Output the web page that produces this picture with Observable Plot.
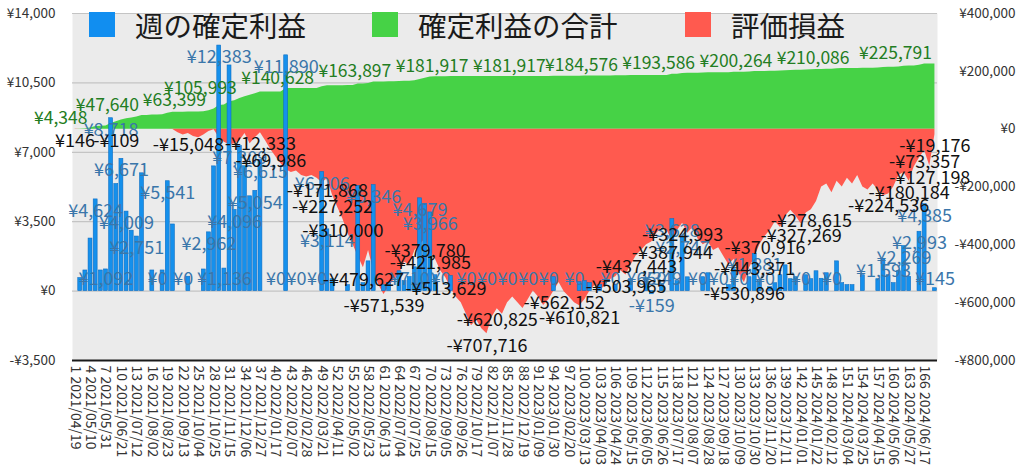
<!DOCTYPE html>
<html><head><meta charset="utf-8">
<script src="https://cdn.jsdelivr.net/npm/d3@7"></script>
<script src="https://cdn.jsdelivr.net/npm/@observablehq/plot@0.6"></script>
<style>
body{margin:0;background:#fff;}
#wrap{position:relative;width:1024px;height:472px;overflow:hidden;}
.legend{position:absolute;top:0;left:0;width:1024px;height:50px;font-family:"Noto Sans CJK JP";pointer-events:none;}
.sw{position:absolute;width:26px;height:25px;top:12px;}
.lt{position:absolute;top:4px;font-size:28.5px;line-height:42px;color:#1a1a1a;white-space:nowrap;}
</style></head><body>
<div id="wrap"><div id="chart"></div>
<div class="legend">
<div class="sw" style="left:89px;background:#118ef0"></div><div class="lt" style="left:135px">週の確定利益</div>
<div class="sw" style="left:372px;background:#46d246"></div><div class="lt" style="left:418px">確定利益の合計</div>
<div class="sw" style="left:685px;background:#ff5a4f"></div><div class="lt" style="left:731px">評価損益</div>
</div></div>
<script>
const weeklyProfit = [
0,658,1040,2650,4624,1040,1092,8718,5400,6671,
4009,3047,2751,5940,0,1040,0,1040,5541,3360,
0,0,726,0,0,1090,2962,6290,12383,1136,
11380,4096,7309,6296,4780,5054,6615,0,0,0,
0,11890,0,0,0,0,0,0,6006,3114,
600,0,0,300,0,5300,400,1500,5346,0,
300,403,0,1000,500,710,1200,4679,4400,3966,
800,0,0,765,0,0,0,0,0,0,
0,0,0,0,0,0,0,0,0,0,
0,0,0,700,0,0,0,0,450,500,
400,0,309,0,0,300,0,0,600,0,
0,650,-159,0,349,0,3628,500,2747,695,
0,0,700,900,0,0,0,300,1100,0,
0,700,1881,500,0,200,397,800,1300,600,
700,0,800,600,1000,622,900,0,1500,400,
300,300,0,800,0,0,600,1593,800,400,
1000,2269,720,0,2993,4385,0,145];

const cumulativeProfit = [
0,658,1698,4348,8972,10012,11104,19822,25222,31893,
35902,38949,41700,47640,47640,48680,48680,49720,55261,58621,
58621,58621,59347,59347,59347,60437,63399,69689,82072,83208,
94588,98684,105993,112289,117069,122123,128738,128738,128738,128738,
128738,140628,140628,140628,140628,140628,140628,140628,146634,149748,
150348,150348,150348,150648,150648,155948,156348,157848,163194,163194,
163494,163897,163897,164897,165397,166107,167307,171986,176386,180352,
181152,181152,181152,181917,181917,181917,181917,181917,181917,181917,
181917,181917,181917,181917,181917,181917,181917,181917,181917,181917,
181917,181917,181917,182617,182617,182617,182617,182617,183067,183567,
183967,183967,184276,184276,184276,184576,184576,184576,185176,185176,
185176,185826,185667,185667,186016,186016,189644,190144,192891,193586,
193586,193586,194286,195186,195186,195186,195186,195486,196586,196586,
196586,197286,199167,199667,199667,199867,200264,201064,202364,202964,
203664,203664,204464,205064,206064,206686,207586,207586,209086,209486,
209786,210086,210086,210886,210886,210886,211486,213079,213879,214279,
215279,217548,218268,218268,221261,225646,225646,225791];

const unrealizedPL = [
146,0,-50,-80,-100,0,-60,-90,-109,-100,
-50,-30,-100,-200,-150,-300,-200,-400,-500,-1000,
-12000,-20000,-15048,-25000,-30000,-20000,-8000,-2000,-30000,-45000,
-55000,-50000,-40000,-15000,-50000,-30000,-12333,-40000,-69986,-95000,
-120000,-140000,-150000,-145000,-160000,-165000,-160000,-170000,-185000,-171868,
-227252,-270000,-310000,-360000,-400000,-440000,-479627,-420000,-490000,-540000,
-571539,-545000,-520000,-500000,-460000,-470000,-420000,-400000,-379780,-421985,
-450000,-490000,-513629,-550000,-580000,-600000,-640000,-680000,-660000,-690000,
-707716,-650000,-620825,-640000,-600000,-580000,-600000,-620000,-590000,-560000,
-580000,-610000,-590000,-560000,-530000,-562152,-580000,-600000,-610821,-590000,
-560000,-540000,-560000,-540000,-520000,-510000,-490000,-503965,-470000,-437443,
-420000,-400000,-390000,-360000,-340000,-350000,-387944,-350000,-324993,-360000,
-340000,-380000,-400000,-390000,-420000,-410000,-440000,-470000,-450000,-500000,
-530896,-480000,-443371,-400000,-370916,-350000,-320000,-340000,-300000,-280000,
-300000,-327269,-290000,-278615,-250000,-200000,-190000,-220000,-180000,-200000,
-170000,-190000,-160000,-200000,-210000,-190000,-210000,-230000,-224536,-200000,
-160000,-150000,-180184,-130000,-100000,-73357,-127198,-19176];

const tickWeeks = [1,4,7,10,13,16,19,22,25,28,31,34,37,40,43,46,49,52,55,58,61,64,67,70,73,76,79,82,85,88,91,94,97,100,103,106,109,112,115,118,121,124,127,130,133,136,139,142,145,148,151,154,157,160,163,166];
const tickLabels = ["1 2021/04/19","4 2021/05/10","7 2021/05/31","10 2021/06/21","13 2021/07/12","16 2021/08/02","19 2021/08/23","22 2021/09/13","25 2021/10/04","28 2021/10/25","31 2021/11/15","34 2021/12/06","37 2021/12/27","40 2022/01/17","43 2022/02/07","46 2022/02/28","49 2022/03/21","52 2022/04/11","55 2022/05/02","58 2022/05/23","61 2022/06/13","64 2022/07/04","67 2022/07/25","70 2022/08/15","73 2022/09/05","76 2022/09/26","79 2022/10/17","82 2022/11/07","85 2022/11/28","88 2022/12/19","91 2023/01/09","94 2023/01/30","97 2023/02/20","100 2023/03/13","103 2023/04/03","106 2023/04/24","109 2023/05/15","112 2023/06/05","115 2023/06/26","118 2023/07/17","121 2023/08/07","124 2023/08/28","127 2023/09/18","130 2023/10/09","133 2023/10/30","136 2023/11/20","139 2023/12/11","142 2024/01/01","145 2024/01/22","148 2024/02/12","151 2024/03/04","154 2024/03/25","157 2024/04/15","160 2024/05/06","163 2024/05/27","166 2024/06/17"];

const leftTicks = [-3500,0,3500,7000,10500,14000];
const rightTicks = [-800000,-600000,-400000,-200000,0,200000,400000];

const weeklyLabelWeeks = [5,7,8,10,11,13,17,19,22,27,29,30,32,33,36,37,40,42,44,48,49,50,59,66,68,70,72,77,81,85,89,93,98,105,112,113,115,117,119,122,126,130,133,135,142,148,158,162,165,166,168];
const cumulativeLabelWeeks = [4,14,27,33,48,63,78,93,107,122,137,152,168];
const unrealizedLabelWeeks = [1,9,23,37,39,50,51,53,57,61,69,70,73,81,83,96,99,108,110,117,119,131,133,135,142,144,159,163,166,167,168];

// right axis (¥-800,000 .. ¥400,000) shares the pixel range of the left axis (¥-3,500 .. ¥14,000)
const K = 17500 / 1200000;
const OFFSET = 800000 * K - 3500;
const toLeft = r => r * K + OFFSET;
const fromLeft = v => Math.round((v - OFFSET) / K / 1000) * 1000;
const yen = v => (v < 0 ? "-¥" : "¥") + d3.format(",")(Math.abs(v));

const rows = weeklyProfit.map((v, i) => ({w: i + 1, weekly: v, cum: cumulativeProfit[i], unreal: unrealizedPL[i]}));
const zero = toLeft(0);
const FONT = "Noto Sans CJK JP";

const chart = Plot.plot({
  width: 1024, height: 472,
  marginLeft: 72, marginRight: 87, marginTop: 13, marginBottom: 112,
  x: {type: "linear", domain: [0.5, 168.5], label: null},
  y: {domain: [-3500, 14000], label: null},
  style: {fontFamily: FONT, background: "transparent", color: "#222"},
  marks: [
    Plot.frame({fill: "#ebebeb", stroke: null}),
    Plot.gridY({ticks: [0, 3500, 7000, 10500, 14000], stroke: "#c4c4c4", strokeOpacity: 1, strokeWidth: 1.2}),
    Plot.areaY(rows, {x: "w", y1: zero, y2: d => toLeft(d.cum), fill: "#46d246"}),
    Plot.areaY(rows, {x: "w", y1: zero, y2: d => toLeft(d.unreal), fill: "#ff5a4f"}),
    Plot.rectY(rows, {x1: d => d.w - 0.38, x2: d => d.w + 0.38, y1: 0, y2: "weekly", fill: "#1590ec", stroke: "#0d6ec4", strokeWidth: 0.6}),
    Plot.ruleY([-3500], {stroke: "#1a1a1a", strokeWidth: 2.2}),
    Plot.axisY({ticks: leftTicks, tickFormat: yen, tickSize: 0, tickPadding: 17, fontSize: 13.5, fill: "#333", label: null}),
    Plot.axisY({anchor: "right", ticks: rightTicks.map(toLeft), tickFormat: v => yen(fromLeft(v)), tickSize: 0, tickPadding: 78, textAnchor: "end", fontSize: 13.5, fill: "#333", label: null}),
    Plot.axisX({ticks: tickWeeks, tickFormat: w => tickLabels[tickWeeks.indexOf(w)], tickRotate: 90, tickSize: 0, tickPadding: 5, fontSize: 14, fill: "#333", label: null}),
    Plot.text(rows.filter(d => cumulativeLabelWeeks.includes(d.w)), {x: "w", y: d => toLeft(d.cum), text: d => yen(d.cum), fill: "#237d23", fontSize: 17.5, textAnchor: "end", dx: -3, dy: -10}),
    Plot.text(rows.filter(d => weeklyLabelWeeks.includes(d.w)), {x: "w", y: d => d.weekly >= 0 ? Math.max(d.weekly - 600, 600) : d.weekly - 600, text: d => yen(d.weekly), fill: "#3a76aa", fontSize: 18}),
    Plot.text(rows.filter(d => unrealizedLabelWeeks.includes(d.w)), {x: "w", y: d => toLeft(d.unreal), text: d => yen(d.unreal), fill: "#111", fontSize: 18, dy: 12})
  ]
});
document.getElementById("chart").appendChild(chart);
</script></body></html>
